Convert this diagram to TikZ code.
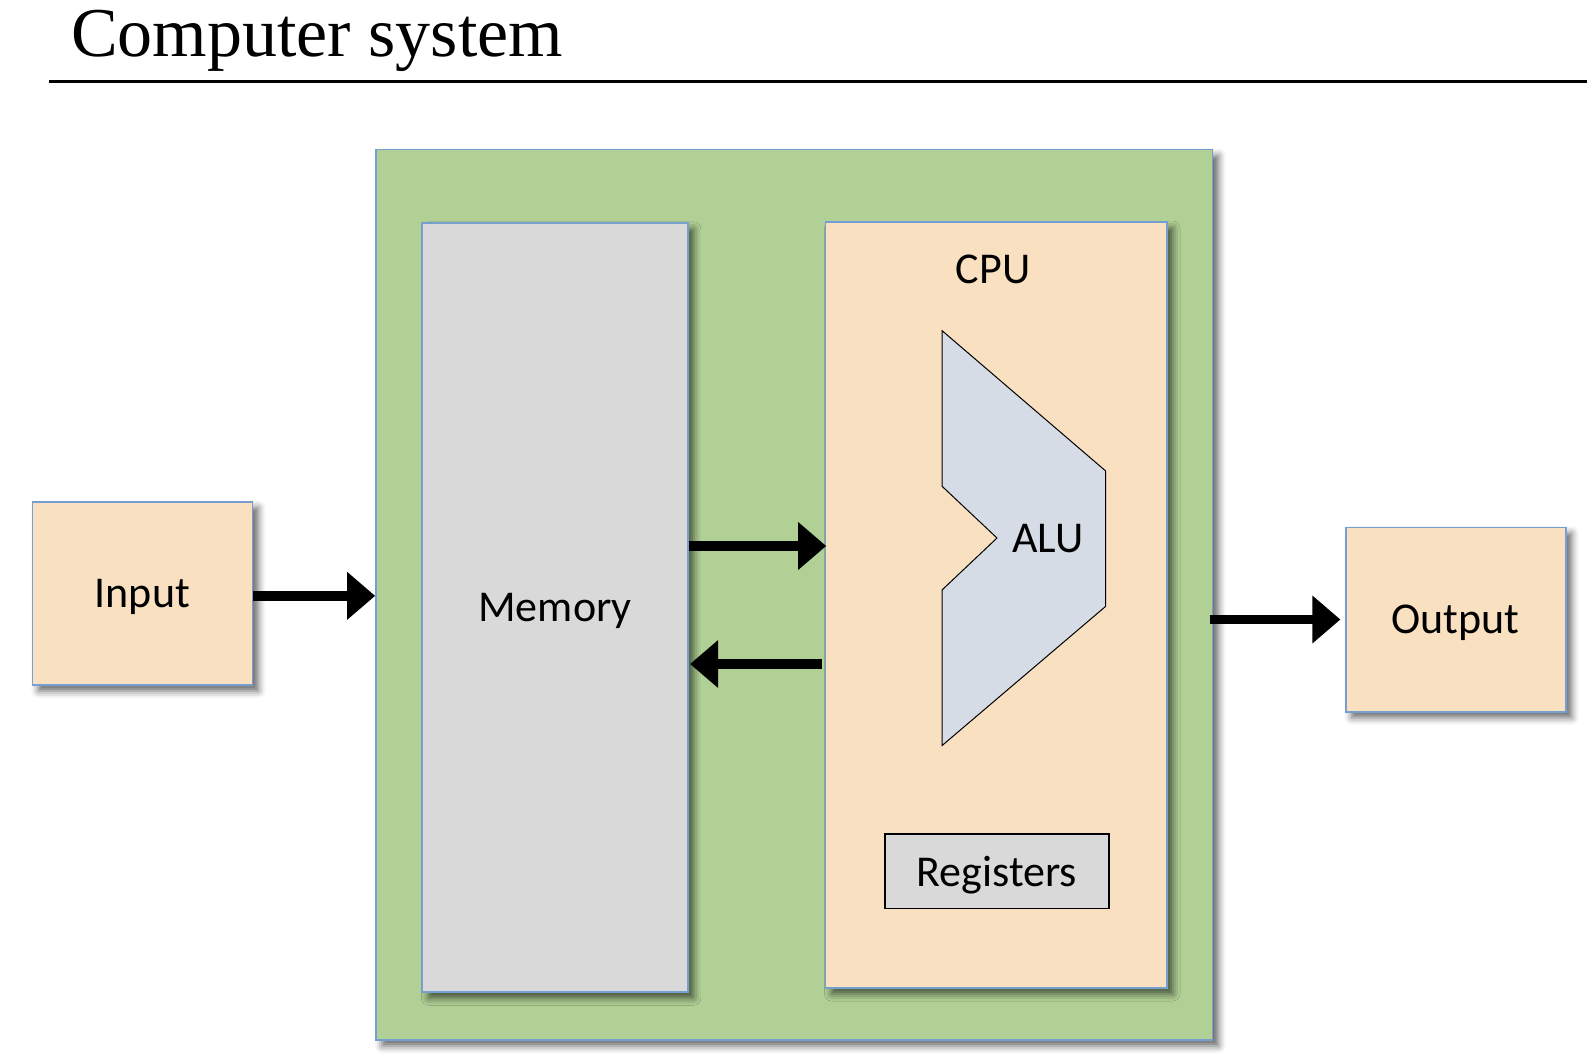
\documentclass[tikz,border=0pt]{standalone}
\usepackage{fontspec}
\setmainfont{Carlito}
\newfontfamily\headfont{Liberation Serif}
\usetikzlibrary{arrows.meta,shadows.blur}

\definecolor{sysgreen}{RGB}{177,208,149}
\definecolor{peach}{RGB}{249,224,192}
\definecolor{memgray}{RGB}{217,217,217}
\definecolor{alublue}{RGB}{214,220,229}
\definecolor{edgeblue}{RGB}{118,158,208}

\tikzset{
  panel/.style={draw=edgeblue, line width=1.6pt, inner sep=0pt,
    font=\fontsize{44}{53}\selectfont, text depth=0pt,
    blur shadow={shadow xshift=6pt, shadow yshift=-6pt,
                 shadow blur radius=7pt, shadow opacity=60}},
  regbox/.style={draw=black, line width=1.6pt, fill=memgray, inner sep=0pt,
    font=\fontsize{44}{53}\selectfont, text depth=0pt},
  alushape/.style={draw=black, line width=1pt, fill=alublue},
  label/.style={inner sep=0pt, font=\fontsize{44}{53}\selectfont},
  flow/.style={line width=9.5pt, -{Triangle[length=28pt,width=46pt]}}
}

\begin{document}
\begin{tikzpicture}[x=1pt,y=-1pt]
  \useasboundingbox (0,0) rectangle (1595,1063);

  % heading and rule
  \node[anchor=base west, inner sep=0pt, font=\headfont\fontsize{70}{84}\selectfont]
    (title) at (71,56) {Computer system};
  \coordinate (ruleL) at (48.8,81.5);
  \coordinate (ruleR) at (1587,81.5);
  \draw[line width=3pt] (ruleL) -- (ruleR);

  % computer enclosure
  \node[panel, fill=sysgreen, minimum width=836.5pt, minimum height=890.5pt]
    (sys) at (794.25,594.75) {};

  % memory and CPU
  \node[panel, fill=memgray, minimum width=265.5pt, minimum height=769.5pt]
    (mem) at (555,607.5) {Memory};
  \node[panel, fill=peach, minimum width=341.5pt, minimum height=766pt]
    (cpu) at (996.25,605) {};
  \node[label] (cpulabel) at (993,269.5) {CPU};

  % ALU
  \draw[alushape] (942,330.6) -- (1105.7,471) -- (1105.7,606.3) -- (942,745.6)
    -- (942,590) -- (997,538) -- (942,486.2) -- cycle;
  \node[label] (alulabel) at (1047.7,539) {ALU};

  % registers
  \node[regbox, minimum width=224.3pt, minimum height=74.3pt]
    (regs) at (996.85,871.15) {Registers};

  % input and output devices
  \node[panel, fill=peach, minimum width=220pt, minimum height=183.3pt]
    (input) at (142.3,593.35) {Input};
  \node[panel, fill=peach, minimum width=220pt, minimum height=184.4pt]
    (output) at (1455.7,619.5) {Output};

  % data flow
  \draw[flow] ([yshift=-2.5pt]input.east) -- ([yshift=-2.5pt]input.east -| sys.west);
  \draw[flow] (mem.east |- 0,546) -- ([xshift=1.5pt]cpu.west |- 0,546);
  \draw[flow] ([xshift=-3pt]cpu.west |- 0,664) -- ([xshift=1.5pt]mem.east |- 0,664);
  \draw[flow] ([xshift=-3pt]sys.east |- output.west) -- ([xshift=-4.5pt]output.west);
\end{tikzpicture}
\end{document}
